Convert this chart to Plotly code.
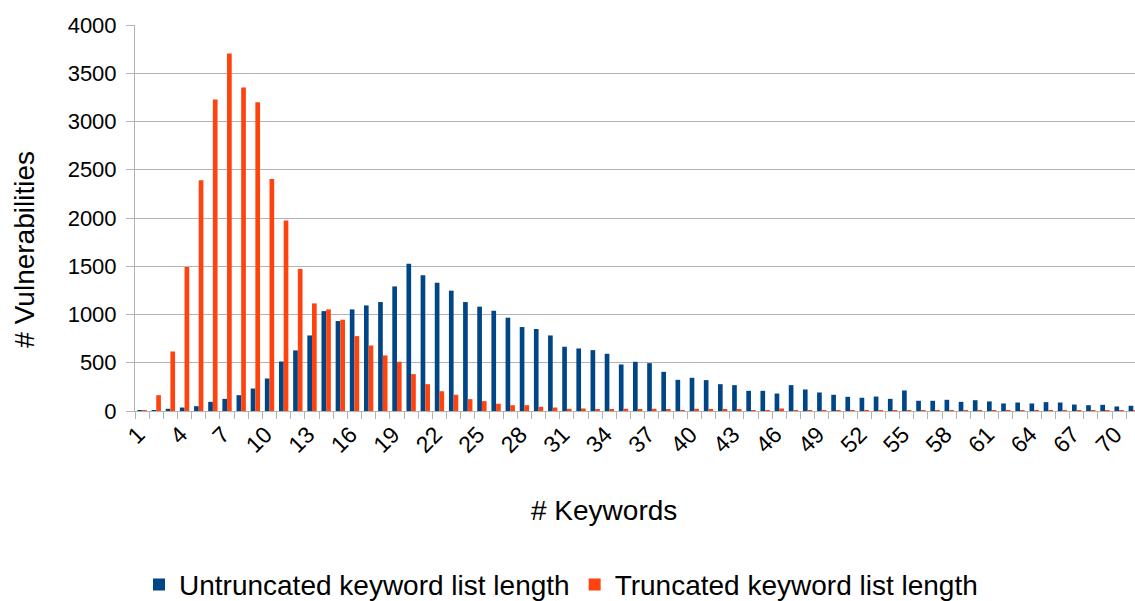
import plotly.graph_objects as go

categories = list(range(1, 72))

untruncated = [3, 8, 23, 36, 50, 95, 126, 164, 233, 337,
               513, 628, 783, 1035, 932, 1053, 1094, 1129, 1291, 1527,
               1406, 1330, 1247, 1129, 1081, 1039, 967, 870, 850, 783,
               666, 648, 631, 593, 482, 510, 496, 406, 323, 344,
               320, 278, 268, 209, 209, 181, 268, 223, 192, 168,
               147, 137, 150, 126, 213, 106, 106, 116, 95, 112,
               99, 78, 88, 78, 92, 88, 67, 60, 64, 47,
               54]

truncated = [5, 164, 617, 1492, 2391, 3228, 3705, 3352, 3200, 2405,
             1973, 1471, 1115, 1053, 946, 776, 679, 576, 510, 382,
             278, 205, 168, 123, 102, 75, 60, 60, 43, 36,
             23, 26, 15, 15, 23, 15, 23, 15, 10, 23,
             15, 15, 15, 8, 8, 26, 8, 4, 3, 2,
             2, 3, 2, 2, 5, 2, 1, 1, 1, 1,
             1, 1, 1, 1, 1, 1, 1, 1, 1, 1,
             1]

tick_vals = list(range(1, 71, 3))
tick_text = [str(v) for v in tick_vals]

BLUE = "#004586"
ORANGE = "#ff420e"
GRID = "#b3b3b3"
FONT = "Liberation Sans"

fig = go.Figure()
fig.add_trace(go.Bar(x=categories, y=untruncated, name="Untruncated keyword list length",
                     marker=dict(color=BLUE, line=dict(width=0))))
fig.add_trace(go.Bar(x=categories, y=truncated, name="Truncated keyword list length",
                     marker=dict(color=ORANGE, line=dict(width=0))))

fig.update_layout(
    width=1135, height=601,
    margin=dict(l=135, r=0, t=25, b=190, autoexpand=False),
    paper_bgcolor="white", plot_bgcolor="white",
    barmode="group", bargap=0.34, bargroupgap=0,
    font=dict(family=FONT, color="#000000"),
    showlegend=True,
    legend=dict(orientation="h", x=0.004, xanchor="left", y=-0.45, yanchor="middle",
                font=dict(size=28, family=FONT), itemsizing="constant",
                itemwidth=30, tracegroupgap=0),
    xaxis=dict(
        automargin=False,
        range=[0.5, 71.12], tickmode="array", tickvals=tick_vals, ticktext=tick_text,
        tickangle=-45, tickfont=dict(size=23, family=FONT), ticks="", ticklen=0,
        ticklabelshift=-4,
        showgrid=False, zeroline=False, showline=True, linecolor=GRID, linewidth=1,
        minor=dict(tick0=0.5, dtick=1, ticks="outside", ticklen=7, tickcolor=GRID, showgrid=False),
    ),
    yaxis=dict(
        automargin=False,
        range=[0, 4000], tickmode="linear", tick0=0, dtick=500,
        tickfont=dict(size=22, family=FONT), ticks="outside", ticklen=8, tickcolor=GRID,
        ticklabelstandoff=5,
        showgrid=True, gridcolor=GRID, gridwidth=1, zeroline=False,
        showline=True, linecolor=GRID, linewidth=1,
    ),
    annotations=[
        dict(text="# Keywords", xref="paper", yref="paper", x=0.469, y=-0.257,
             xanchor="center", yanchor="middle", showarrow=False,
             font=dict(size=28, family=FONT, color="#000000")),
        dict(text="# Vulnerabilities", xref="paper", yref="paper", x=-0.11, y=0.418,
             xanchor="center", yanchor="middle", showarrow=False, textangle=-90,
             font=dict(size=28, family=FONT, color="#000000")),
    ],
)

fig.write_html("out.html", config={"displayModeBar": False},
               post_script="document.body.style.margin='0';")
